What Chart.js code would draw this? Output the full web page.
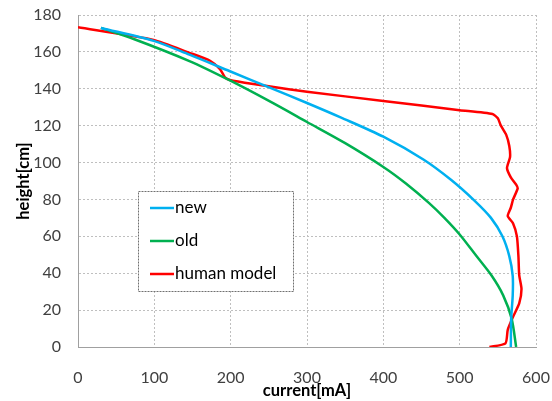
<!DOCTYPE html>
<html>
<head>
<meta charset="utf-8">
<script src="https://cdn.jsdelivr.net/npm/chart.js@4.4.1/dist/chart.umd.min.js"></script>
<style>
  html, body { margin: 0; padding: 0; background: #fff; }
  #wrap { width: 552px; height: 401px; position: relative; }
</style>
</head>
<body>
<div id="wrap"><canvas id="chart"></canvas></div>
<script>
// Data (current in mA, height in cm)
const newCurrent = [30, 99, 146, 199, 252, 300, 344, 400, 453, 489, 519, 541, 556, 565, 569.5, 569.5, 567.5, 567];
const newHeight  = [173, 166, 158.5, 149.5, 140.5, 132.3, 124.5, 114, 101.5, 90.5, 79.5, 70, 60, 49.3, 38.6, 28, 15.5, 0];

const oldCurrent = [30, 73, 146, 199, 252, 300, 350, 400, 430, 460, 480, 500, 522, 542, 557, 568, 574];
const oldHeight  = [173, 167, 155, 144.5, 133, 122, 110.5, 97.6, 88.5, 78, 70, 61, 49.3, 38.6, 28, 15.5, 0];

const humanCurrent = [0, 99, 146, 173, 186, 192.5, 199, 234, 252, 300, 400, 500, 543, 550, 554, 561, 565, 566, 562, 567, 574, 576, 570, 567, 563, 570, 575, 577, 578, 581, 578, 570, 563, 560, 539];
const humanHeight  = [173.3, 166.5, 159.5, 155.2, 150.7, 146.2, 144.8, 142.3, 141.2, 138.4, 133.4, 128.4, 126.3, 124, 120, 115, 109, 103, 97, 92, 88, 86, 80, 75.5, 71, 67, 60, 49, 39, 31.5, 23.6, 16.4, 9.3, 2, 0];

const xTicks = [0, 100, 200, 300, 400, 500, 600];
const yTicks = [0, 20, 40, 60, 80, 100, 120, 140, 160, 180];

const FONT = 'Lato';

function toPoints(xs, ys) {
    return xs.map((x, i) => ({ x: x, y: ys[i] }));
}

// Legend drawn inside the plot, like the original
const boxLegend = {
    id: 'boxLegend',
    afterDraw(chart) {
        const ctx = chart.ctx;
        const left = 138, top = 191, w = 155, h = 100;
        ctx.save();
        ctx.fillStyle = '#fff';
        ctx.fillRect(left, top, w, h);
        ctx.strokeStyle = '#707070';
        ctx.lineWidth = 1;
        ctx.setLineDash([2, 1]);
        ctx.strokeRect(left + 0.5, top + 0.5, w, h);
        ctx.setLineDash([]);
        ctx.font = '17px ' + FONT;
        ctx.textBaseline = 'middle';
        chart.data.datasets.forEach((ds, i) => {
            const y = 208 + i * 33;
            ctx.strokeStyle = ds.borderColor;
            ctx.lineWidth = 2.5;
            ctx.beginPath();
            ctx.moveTo(150, y);
            ctx.lineTo(174, y);
            ctx.stroke();
            ctx.fillStyle = '#000';
            ctx.fillText(ds.label, 175, y);
        });
        ctx.restore();
    }
};

new Chart(document.getElementById('chart'), {
    type: 'scatter',
    data: {
        datasets: [
            { label: 'new', data: toPoints(newCurrent, newHeight), borderColor: '#00b0f0', tension: 0.3 },
            { label: 'old', data: toPoints(oldCurrent, oldHeight), borderColor: '#00b050', tension: 0.3 },
            { label: 'human model', data: toPoints(humanCurrent, humanHeight), borderColor: '#ff0000', tension: 0.2 }
        ].map(d => Object.assign(d, {
            showLine: true,
            borderWidth: 2.5,
            pointRadius: 0,
            fill: false
        }))
    },
    options: {
        responsive: true,
        maintainAspectRatio: false,
        animation: false,
        layout: { padding: { left: 0, right: 16, top: 15, bottom: 0 } },
        plugins: {
            legend: { display: false },
            tooltip: { enabled: false }
        },
        scales: {
            x: {
                type: 'linear',
                min: 0, max: 600,
                afterBuildTicks: s => { s.ticks = xTicks.map(v => ({ value: v })); },
                afterFit: s => { s.height = 54; s.paddingLeft = 0; s.paddingRight = 0; },
                grid: { color: '#bfbfbf', drawTicks: false },
                border: { color: '#a0a0a0', dash: [2, 2] },
                ticks: { color: '#404040', font: { family: FONT, size: 16 }, padding: 21 },
                title: { display: true, text: 'current[mA]', color: '#000', font: { family: FONT, size: 16.5, weight: 'bold' }, padding: { top: 0, bottom: 0 } }
            },
            y: {
                type: 'linear',
                min: 0, max: 180,
                afterBuildTicks: s => { s.ticks = yTicks.map(v => ({ value: v })); },
                afterFit: s => { s.width = 78; s.paddingTop = 0; s.paddingBottom = 0; },
                grid: { color: '#bfbfbf', drawTicks: false },
                border: { color: '#a0a0a0', dash: [2, 2] },
                ticks: { color: '#404040', font: { family: FONT, size: 16 }, padding: 17 },
                title: { display: true, text: 'height[cm]', color: '#000', font: { family: FONT, size: 16.5, weight: 'bold' }, padding: { top: 14, bottom: 14 } }
            }
        }
    },
    plugins: [boxLegend]
});
</script>
</body>
</html>
